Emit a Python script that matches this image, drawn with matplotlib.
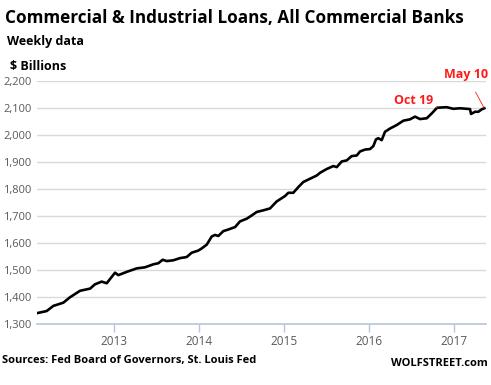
import matplotlib
matplotlib.use("Agg")
import matplotlib.pyplot as plt

plt.rcParams["font.family"] = ["Open Sans", "DejaVu Sans"]

# C&I loans, weekly, $ billions (x as decimal year)
years = [2012.091, 2012.208, 2012.286, 2012.404, 2012.482, 2012.600, 2012.718,
         2012.776, 2012.855, 2012.914, 2013.012, 2013.051, 2013.149, 2013.267,
         2013.365, 2013.462, 2013.521, 2013.573, 2013.620, 2013.698, 2013.776,
         2013.855, 2013.914, 2013.992, 2014.032, 2014.091, 2014.149, 2014.188,
         2014.227, 2014.286, 2014.345, 2014.424, 2014.482, 2014.561, 2014.620,
         2014.679, 2014.756, 2014.835, 2014.914, 2014.973, 2015.012, 2015.051,
         2015.109, 2015.168, 2015.227, 2015.306, 2015.385, 2015.424, 2015.502,
         2015.580, 2015.620, 2015.679, 2015.738, 2015.796, 2015.855, 2015.894,
         2015.953, 2016.012, 2016.051, 2016.082, 2016.109, 2016.149, 2016.188,
         2016.247, 2016.326, 2016.404, 2016.482, 2016.541, 2016.600, 2016.679,
         2016.738, 2016.800, 2016.914, 2016.992, 2017.071, 2017.149, 2017.188,
         2017.200, 2017.247, 2017.286, 2017.325, 2017.356]
loans = [1340, 1348, 1367, 1379, 1399, 1423, 1431,
         1447, 1457, 1451, 1490, 1481, 1493, 1506,
         1510, 1521, 1525, 1538, 1533, 1536, 1544,
         1548, 1564, 1572, 1580, 1594, 1624, 1630,
         1626, 1644, 1650, 1659, 1680, 1690, 1702,
         1715, 1721, 1728, 1754, 1766, 1774, 1786,
         1786, 1807, 1826, 1838, 1850, 1860, 1874,
         1885, 1881, 1902, 1906, 1922, 1924, 1939,
         1946, 1948, 1959, 1984, 1988, 1981, 2012,
         2024, 2037, 2053, 2058, 2068, 2059, 2062,
         2080, 2101, 2103, 2097, 2099, 2097, 2096,
         2078, 2086, 2086, 2095, 2099]

yticks = [1300, 1400, 1500, 1600, 1700, 1800, 1900, 2000, 2100, 2200]
xticks = [2013, 2014, 2015, 2016, 2017]

fig = plt.figure(figsize=(4.91, 3.85), dpi=100)
fig.patch.set_facecolor("white")
ax = fig.add_axes([37 / 491, 1 - 324 / 385, 449 / 491, 243 / 385])

ax.plot(years, loans, color="black", lw=1.9, solid_joinstyle="round")

ax.set_xlim(2012.094, 2017.376)
ax.set_ylim(1300, 2200)
ax.set_yticks(yticks)
ax.set_yticklabels([f"{v:,}" for v in yticks])
ax.set_xticks(xticks)
ax.set_xticklabels([str(v) for v in xticks])

ax.grid(axis="y", color="#d9d9d9", lw=1)
ax.set_axisbelow(True)
for s in ["top", "right", "left"]:
    ax.spines[s].set_visible(False)
ax.spines["bottom"].set_color("#b7c6dc")
ax.spines["bottom"].set_linewidth(1.2)
ax.tick_params(axis="y", length=0, pad=4, labelsize=8, labelcolor="#595959")
ax.tick_params(axis="x", length=6, width=1, color="#b7c6dc", pad=2,
               labelsize=8.5, labelcolor="#595959")

# annotations
red = "#ff1a1a"
ax.annotate("Oct 19", xy=(2016.80, 2101), xytext=(2016.52, 2128),
            color=red, fontsize=9, fontweight="bold", ha="center", va="center",
            arrowprops=dict(arrowstyle="-", color=red, lw=0.6, shrinkA=4, shrinkB=0))
ax.annotate("May 10", xy=(2017.356, 2099), xytext=(2017.14, 2225),
            color=red, fontsize=9, fontweight="bold", ha="center", va="center",
            annotation_clip=False,
            arrowprops=dict(arrowstyle="-", color=red, lw=0.6, shrinkA=7, shrinkB=0))

fig.text(5 / 491, 1 - 18 / 385, "Commercial & Industrial Loans, All Commercial Banks",
         fontsize=12.3, fontweight="bold", va="center", ha="left")
fig.text(7 / 491, 1 - 41 / 385, "Weekly data", fontsize=9, fontweight="bold",
         va="center", ha="left")
fig.text(10 / 491, 1 - 66 / 385, "$ Billions", fontsize=9, fontweight="bold",
         va="center", ha="left")
fig.text(2 / 491, 1 - 360 / 385, "Sources: Fed Board of Governors, St. Louis Fed",
         fontsize=8, fontweight="bold", va="center", ha="left")
fig.text(488 / 491, 1 - 364 / 385, "WOLFSTREET.com", fontsize=8, fontweight="bold",
         va="center", ha="right")

fig.savefig("out.png", dpi=100)
